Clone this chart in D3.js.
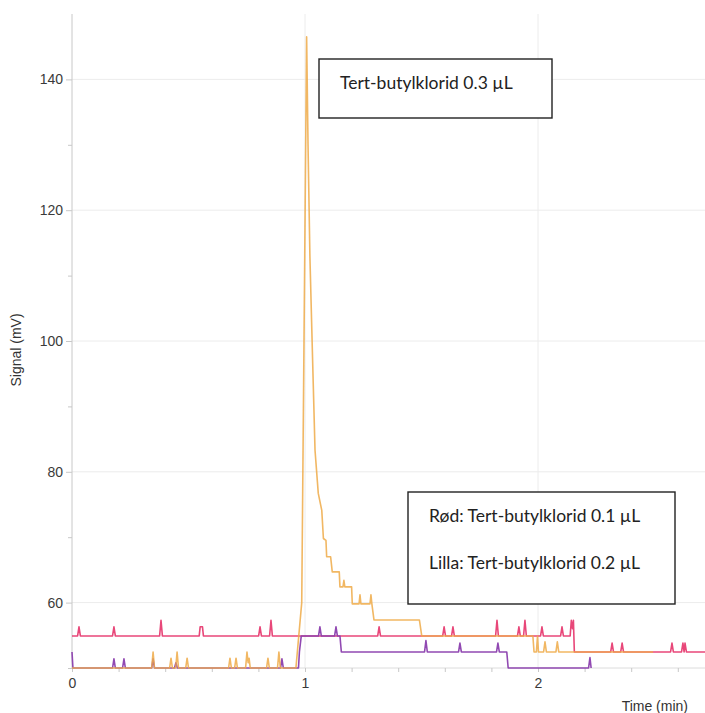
<!DOCTYPE html>
<html>
<head>
<meta charset="utf-8">
<script src="https://cdn.jsdelivr.net/npm/d3@7"></script>
<style>
  body { margin: 0; background: #fff; }
  .tick text { font-family: "Liberation Sans", Arial, sans-serif; fill: #3a3a3a; }
  .grid line { stroke: #ececec; }
  .note { font-family: Lato, "Open Sans", sans-serif; fill: #222; }
</style>
</head>
<body>
<script>
// series: [time (min), signal (mV)]
var red = [
  [0, 54.9], [0.024, 54.9], [0.03, 56.3], [0.036, 54.9],
  [0.174, 54.9], [0.18, 56.3], [0.186, 54.9],
  [0.376, 54.9], [0.382, 57.3], [0.388, 54.9],
  [0.546, 54.9], [0.55, 56.3], [0.56, 56.3], [0.564, 54.9],
  [0.801, 54.9], [0.807, 56.3], [0.813, 54.9],
  [0.848, 54.9], [0.854, 57.3], [0.86, 54.9],
  [1.312, 54.9], [1.318, 56.3], [1.324, 54.9],
  [1.591, 54.9], [1.597, 56.3], [1.603, 54.9],
  [1.629, 54.9], [1.635, 56.3], [1.641, 54.9],
  [1.818, 54.9], [1.824, 57.3], [1.83, 54.9],
  [1.912, 54.9], [1.918, 56.3], [1.924, 54.9],
  [1.938, 54.9], [1.944, 57.3], [1.95, 54.9],
  [2.011, 54.9], [2.017, 56.3], [2.023, 54.9],
  [2.097, 54.9], [2.103, 56.3], [2.109, 54.9],
  [2.138, 54.9], [2.143, 57.3], [2.148, 56.0], [2.152, 57.3], [2.156, 52.45],
  [2.312, 52.45], [2.318, 53.8], [2.324, 52.45],
  [2.355, 52.45], [2.361, 53.8], [2.367, 52.45],
  [2.569, 52.45], [2.575, 53.8], [2.581, 52.45],
  [2.616, 52.45], [2.622, 53.8], [2.627, 52.45], [2.631, 53.8], [2.637, 52.45],
  [2.72, 52.45]
];

var purple = [
  [0, 52.45], [0.004, 50],
  [0.174, 50], [0.18, 51.4], [0.186, 50],
  [0.217, 50], [0.223, 51.4], [0.229, 50],
  [0.342, 50], [0.348, 51.4], [0.354, 50],
  [0.44, 50], [0.446, 50.8], [0.452, 50],
  [0.895, 50], [0.901, 51.4], [0.907, 50],
  [0.972, 50], [0.976, 52.45], [0.984, 54.9],
  [1.058, 54.9], [1.064, 56.3], [1.07, 54.9],
  [1.127, 54.9], [1.133, 56.3], [1.139, 54.9],
  [1.15, 54.9], [1.156, 52.45],
  [1.513, 52.45], [1.519, 54.2], [1.525, 52.45],
  [1.659, 52.45], [1.665, 53.8], [1.671, 52.45],
  [1.822, 52.45], [1.828, 53.8], [1.834, 52.45],
  [1.866, 52.45], [1.872, 50],
  [2.217, 50], [2.223, 51.6], [2.228, 50]
];

var orange = [
  [0, 50],
  [0.342, 50], [0.348, 52.45], [0.354, 50],
  [0.419, 50], [0.425, 51.5], [0.431, 50],
  [0.445, 50], [0.451, 52.45], [0.457, 50],
  [0.488, 50], [0.494, 51.5], [0.5, 50],
  [0.672, 50], [0.678, 51.5], [0.684, 50],
  [0.698, 50], [0.704, 51.5], [0.71, 50],
  [0.745, 50], [0.751, 52.45], [0.756, 50.8], [0.76, 51.5], [0.765, 50],
  [0.835, 50], [0.841, 51.5], [0.847, 50],
  [0.882, 50], [0.888, 52.45], [0.894, 50],
  [0.961, 50], [0.986, 60], [1.007, 146.5],
  [1.013, 130], [1.021, 113], [1.033, 96.6], [1.043, 83.3], [1.057, 76.7],
  [1.072, 74.1], [1.079, 69.8], [1.09, 69.5], [1.093, 67.0], [1.11, 67.0],
  [1.117, 64.7], [1.147, 64.7], [1.15, 62.4], [1.163, 62.4], [1.167, 63.4],
  [1.171, 62.4], [1.2, 62.4], [1.203, 59.8], [1.232, 59.8], [1.236, 61.2],
  [1.24, 59.8], [1.279, 59.8], [1.283, 61.2], [1.287, 59.8], [1.296, 57.35],
  [1.491, 57.35], [1.501, 54.9], [1.978, 54.9], [1.983, 52.45], [1.993, 52.45],
  [1.998, 54.9], [2.002, 52.45], [2.024, 52.45], [2.03, 54.0], [2.036, 52.45],
  [2.077, 52.45], [2.083, 54.0], [2.089, 52.45], [2.494, 52.45]
];

var xMajor = [0, 1, 2];
var xMinor = [0.2, 0.4, 0.6, 0.8, 1.2, 1.4, 1.6, 1.8, 2.2, 2.4, 2.6];
var yMajor = [60, 80, 100, 120, 140];
var yMinor = [50, 70, 90, 110, 130];

var notes = [
  { box: [319, 59, 233, 59], lines: [{ text: "Tert-butylklorid 0.3 µL", x: 340, y: 89 }] },
  { box: [408, 492, 267, 112], lines: [
      { text: "Rød: Tert-butylklorid 0.1 µL", x: 429, y: 522 },
      { text: "Lilla: Tert-butylklorid 0.2 µL", x: 429, y: 569 }
  ] }
];

var width = 705,
    height = 713,
    plotLeft = 72,
    plotTop = 14,
    plotBottom = 668;

var x = d3.scaleLinear().domain([0, 2.72]).range([plotLeft, plotLeft + 233 * 2.72]);
var y = d3.scaleLinear().domain([50, 150]).range([plotBottom, plotTop]);

var svg = d3.select("body").append("svg")
    .attr("width", width)
    .attr("height", height);

// grid
svg.append("g")
    .attr("class", "grid")
  .selectAll("line")
    .data(yMajor)
  .enter().append("line")
    .attr("x1", plotLeft).attr("x2", width)
    .attr("y1", function(d) { return y(d); })
    .attr("y2", function(d) { return y(d); });
svg.append("g")
    .attr("class", "grid")
  .selectAll("line")
    .data([1, 2])
  .enter().append("line")
    .attr("x1", function(d) { return x(d); })
    .attr("x2", function(d) { return x(d); })
    .attr("y1", plotTop).attr("y2", plotBottom);

// axes
var yAxis = svg.append("g")
    .attr("transform", "translate(" + plotLeft + ",0)")
    .call(d3.axisLeft(y).tickValues(yMajor).tickSize(6).tickPadding(3));
yAxis.selectAll(".tick text").style("font-size", "14px");
yAxis.select(".domain").attr("stroke", "#c8c8c8").attr("d", "M0," + plotTop + "V" + plotBottom);
yAxis.selectAll(".tick line").attr("stroke", "#c8c8c8");
svg.append("g")
    .attr("transform", "translate(" + plotLeft + ",0)")
    .call(d3.axisLeft(y).tickValues(yMinor).tickSize(4).tickFormat(""))
    .call(function(g) {
      g.select(".domain").remove();
      g.selectAll(".tick line").attr("stroke", "#c8c8c8");
    });

var xAxis = svg.append("g")
    .attr("transform", "translate(0," + plotBottom + ")")
    .call(d3.axisBottom(x).tickValues(xMajor).tickSize(4).tickPadding(6).tickFormat(d3.format("d")));
xAxis.selectAll(".tick text").style("font-size", "14px");
xAxis.select(".domain").attr("stroke", "#dcdcdc").attr("d", "M" + plotLeft + ",0H" + width);
xAxis.selectAll(".tick line").attr("stroke", "#c8c8c8");
svg.append("g")
    .attr("transform", "translate(0," + plotBottom + ")")
    .call(d3.axisBottom(x).tickValues(xMinor).tickSize(4).tickFormat(""))
    .call(function(g) {
      g.select(".domain").remove();
      g.selectAll(".tick line").attr("stroke", "#c8c8c8");
    });

// axis titles
svg.append("text")
    .attr("transform", "translate(21,350) rotate(-90)")
    .attr("text-anchor", "middle")
    .style("font-family", "Liberation Sans, Arial, sans-serif")
    .style("font-size", "14px")
    .style("fill", "#333")
    .text("Signal (mV)");
svg.append("text")
    .attr("x", 688).attr("y", 711)
    .attr("text-anchor", "end")
    .style("font-family", "Liberation Sans, Arial, sans-serif")
    .style("font-size", "14px")
    .style("fill", "#333")
    .text("Time (min)");

// traces
var line = d3.line()
    .x(function(d) { return x(d[0]); })
    .y(function(d) { return y(d[1]); });

var traces = [
  { data: red, color: "#e5336a", opacity: 0.9 },
  { data: purple, color: "#8b3fae", opacity: 0.95 },
  { data: orange, color: "#eeaa48", opacity: 0.85 }
];

svg.append("g")
  .selectAll("path")
    .data(traces)
  .enter().append("path")
    .attr("fill", "none")
    .attr("stroke", function(d) { return d.color; })
    .attr("stroke-opacity", function(d) { return d.opacity; })
    .attr("stroke-width", 1.6)
    .attr("stroke-linejoin", "round")
    .attr("d", function(d) { return line(d.data); });

// text boxes
var note = svg.append("g")
  .selectAll("g")
    .data(notes)
  .enter().append("g");
note.append("rect")
    .attr("x", function(d) { return d.box[0]; })
    .attr("y", function(d) { return d.box[1]; })
    .attr("width", function(d) { return d.box[2]; })
    .attr("height", function(d) { return d.box[3]; })
    .attr("fill", "#fff")
    .attr("stroke", "#222")
    .attr("stroke-width", 1.4);
note.selectAll("text")
    .data(function(d) { return d.lines; })
  .enter().append("text")
    .attr("class", "note")
    .attr("x", function(d) { return d.x; })
    .attr("y", function(d) { return d.y; })
    .style("font-size", "17.5px")
    .text(function(d) { return d.text; });
</script>
</body>
</html>
